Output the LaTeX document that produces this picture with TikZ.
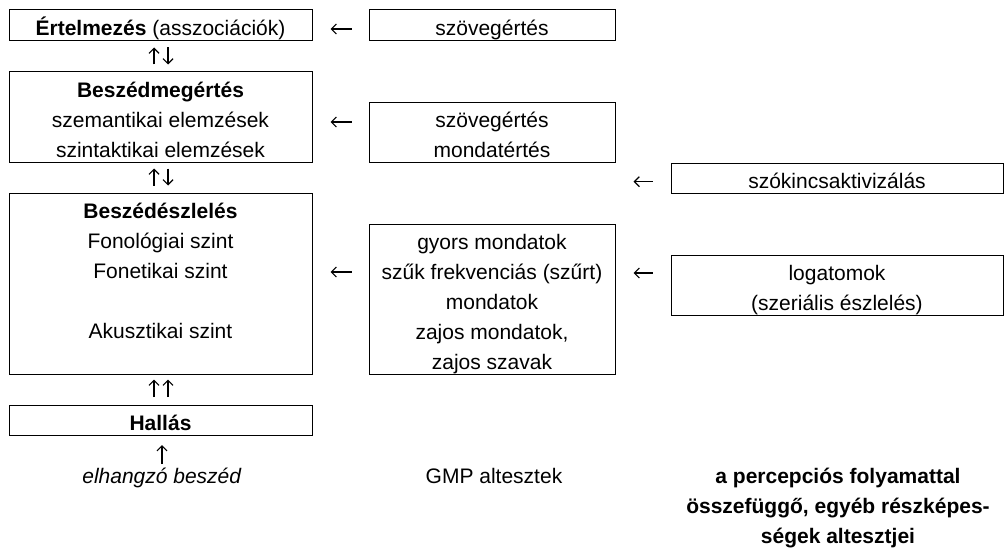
\documentclass[tikz,border=0pt]{standalone}
\usepackage{fontspec}
\setmainfont{Liberation Sans}
\usetikzlibrary{positioning, arrows.meta}
\newcommand{\cellstrut}{\rule[-5pt]{0pt}{30pt}}

\begin{document}
\begin{tikzpicture}[x=1pt, y=-1pt,
	cell/.style={draw, line width=1pt, inner sep=0pt, align=center, font=\fontsize{21}{30}\selectfont},
	lcell/.style={cell, minimum width=303pt}, mcell/.style={cell, minimum width=246pt}, rcell/.style={cell, minimum width=332pt},
	lbl/.style={inner sep=0pt, align=center, font=\fontsize{21}{30}\selectfont},
	arr/.style={-{Straight Barb[length=5pt, width=10pt]}, line width=1.2pt}]
	\useasboundingbox (0,0) rectangle (1004,551);
	% left column
	\node[lcell, minimum height=31pt] (interp) at (160.5,25.5) {\cellstrut\textbf{Értelmezés} (asszociációk)};
	\node[lcell, minimum height=90pt] (underst) at (160.5,117) {\cellstrut\textbf{Beszédmegértés}\\\cellstrut szemantikai elemzések\\\cellstrut szintaktikai elemzések};
	\node[lcell, minimum height=181pt] (percept) at (160.5,283.5) {\cellstrut\textbf{Beszédészlelés}\\\cellstrut Fonológiai szint\\\cellstrut Fonetikai szint\\\cellstrut\\\cellstrut Akusztikai szint\\\cellstrut};
	\node[lcell, minimum height=29pt] (hear) at (160.5,420.5) {\cellstrut\textbf{Hallás}};
	% GMP subtests
	\node[mcell, minimum height=31pt] (gmpA) at (492,25.5) {\cellstrut szövegértés};
	\node[mcell, minimum height=59pt] (gmpB) at (492,132.5) {\cellstrut szövegértés\\\cellstrut mondatértés};
	\node[mcell, minimum height=150pt] (gmpC) at (492,299) {\cellstrut gyors mondatok\\\cellstrut szűk frekvenciás (szűrt)\\\cellstrut mondatok\\\cellstrut zajos mondatok,\\\cellstrut zajos szavak};
	% other subtests
	\node[rcell, minimum height=30pt] (vocab) at (837,178) {\cellstrut szókincsaktivizálás};
	\node[rcell, minimum height=58pt] (logat) at (837,285) {\cellstrut logatomok\\\cellstrut(szeriális észlelés)};
	% captions
	\node[lbl, anchor=north] (speech) at (162,458) {\cellstrut\textit{elhangzó beszéd}};
	\node[lbl, anchor=north] (gmp) at (494,458) {\cellstrut GMP altesztek};
	\node[lbl, anchor=north, font=\fontsize{21}{30}\selectfont\bfseries] (other) at (838,458) {\cellstrut a percepciós folyamattal\\\cellstrut összefüggő, egyéb részképes-\\\cellstrut ségek altesztjei};
	% vertical arrows
	\foreach \a/\b in {interp/underst, underst/percept} {
		\draw[arr, shorten <=7pt, shorten >=6pt] ([xshift=-6.5pt]\b.north) -- ([xshift=-6.5pt]\a.south);
		\draw[arr, shorten <=6pt, shorten >=7pt] ([xshift=7.5pt]\a.south) -- ([xshift=7.5pt]\b.north);
	}
	\foreach \dx in {-6.5, 7.5}
		\draw[arr, shorten <=8pt, shorten >=5pt] ([xshift=\dx pt]hear.north) -- ([xshift=\dx pt]percept.south);
	\draw[arr, shorten <=-6pt, shorten >=9pt] (speech.north) -- (speech.north |- hear.south);
	% horizontal arrows
	\coordinate (tA) at ([yshift=-3.5pt]gmpA.west);
	\coordinate (tB) at ([yshift=10.5pt]gmpB.west);
	\coordinate (tC) at ([yshift=27pt]gmpC.west);
	\coordinate (tV) at ([yshift=-3.7pt]vocab.west);
	\coordinate (tL) at ([yshift=12pt]logat.west);
	\draw[arr, shorten <=17pt, shorten >=18pt] (tA) -- (tA -| interp.east);
	\draw[arr, shorten <=17pt, shorten >=18pt] (tB) -- (tB -| underst.east);
	\draw[arr, shorten <=17pt, shorten >=18pt] (tC) -- (tC -| percept.east);
	\draw[arr, shorten <=18pt, shorten >=18pt] (tV) -- (tV -| gmpB.east);
	\draw[arr, shorten <=18pt, shorten >=18pt] (tL) -- (tL -| gmpC.east);
\end{tikzpicture}
\end{document}
